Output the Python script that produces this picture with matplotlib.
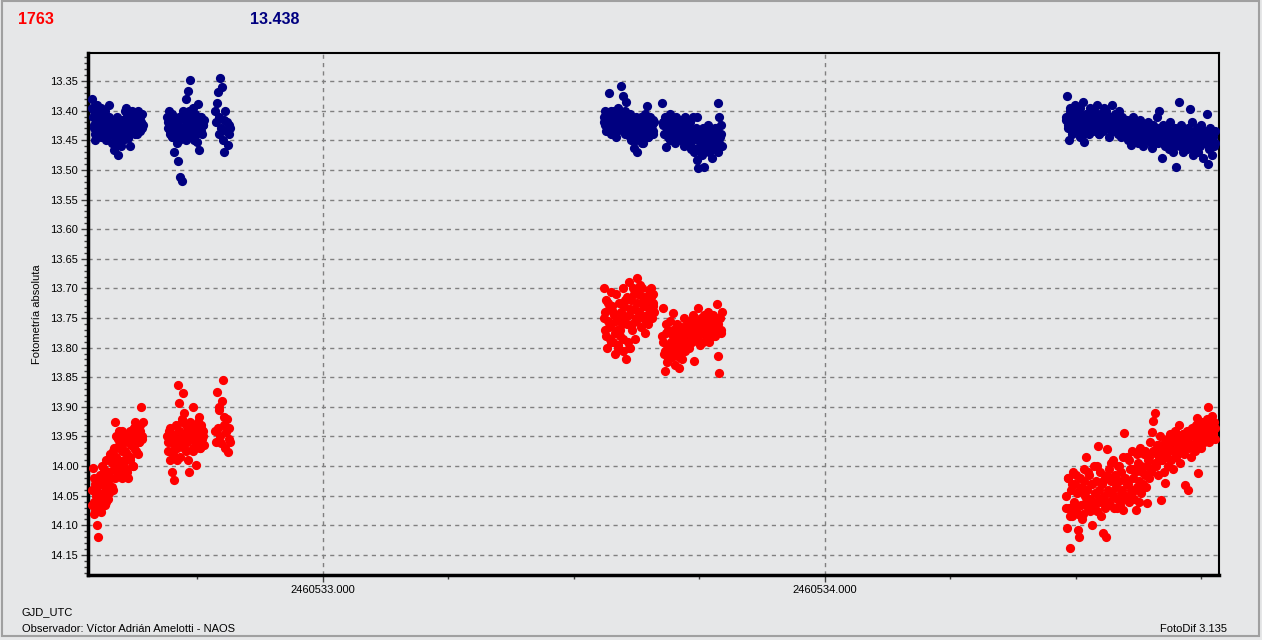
import matplotlib
matplotlib.use("Agg")
import matplotlib.pyplot as plt
from matplotlib.patches import Rectangle
from matplotlib.ticker import MultipleLocator, FormatStrFormatter

plt.rcParams['font.family'] = ['Liberation Sans', 'DejaVu Sans']

# days after JD 2460532
JD0 = 2460532.0

# night 1 (three short runs)
t_n1 = [0.540, 0.541, 0.543, 0.544, 0.546, 0.547, 0.549, 0.551, 0.552, 0.554,
        0.556, 0.557, 0.559, 0.560, 0.562, 0.564, 0.565, 0.567, 0.568, 0.570,
        0.572, 0.573, 0.575, 0.576, 0.578, 0.580, 0.581, 0.583, 0.584, 0.586,
        0.588, 0.589, 0.591, 0.592, 0.594, 0.596, 0.597, 0.599, 0.600, 0.602,
        0.604, 0.605, 0.607, 0.608, 0.610, 0.612, 0.613, 0.615, 0.616, 0.618,
        0.620, 0.621, 0.623, 0.624, 0.626, 0.628, 0.629, 0.631, 0.632, 0.634,
        0.636, 0.637, 0.639, 0.641,
        0.690, 0.692, 0.693, 0.695, 0.697, 0.699, 0.700, 0.702, 0.704, 0.706,
        0.707, 0.709, 0.711, 0.713, 0.714, 0.716, 0.718, 0.720, 0.721, 0.723,
        0.725, 0.727, 0.728, 0.730, 0.732, 0.734, 0.735, 0.737, 0.739, 0.741,
        0.742, 0.744, 0.746, 0.748, 0.749, 0.751, 0.753, 0.755, 0.756, 0.758,
        0.760, 0.762, 0.763,
        0.785, 0.787, 0.788, 0.790, 0.792, 0.793, 0.795, 0.797, 0.798, 0.800,
        0.802, 0.803, 0.805, 0.807, 0.808, 0.810, 0.812, 0.813, 0.815]
blue_n1 = [13.38, 13.41, 13.43, 13.40, 13.45, 13.42, 13.39, 13.44, 13.415, 13.40,
           13.43, 13.395, 13.42, 13.44, 13.41, 13.43, 13.40, 13.45, 13.425, 13.41,
           13.435, 13.39, 13.42, 13.43, 13.44, 13.415, 13.455, 13.42, 13.466, 13.43,
           13.445, 13.41, 13.45, 13.475, 13.425, 13.44, 13.46, 13.415, 13.435, 13.45,
           13.42, 13.40, 13.43, 13.395, 13.42, 13.447, 13.41, 13.435, 13.46, 13.415,
           13.40, 13.43, 13.42, 13.405, 13.44, 13.415, 13.425, 13.40, 13.43, 13.41,
           13.435, 13.42, 13.405, 13.425,
           13.41, 13.43, 13.40, 13.44, 13.42, 13.445, 13.405, 13.43, 13.47, 13.415,
           13.44, 13.425, 13.485, 13.41, 13.45, 13.512, 13.43, 13.519, 13.40, 13.435,
           13.415, 13.45, 13.38, 13.42, 13.367, 13.44, 13.348, 13.41, 13.43, 13.395,
           13.425, 13.45, 13.405, 13.44, 13.453, 13.388, 13.466, 13.42, 13.435, 13.41,
           13.44, 13.425, 13.415,
           13.40, 13.42, 13.387, 13.368, 13.44, 13.41, 13.345, 13.43, 13.36, 13.45,
           13.415, 13.47, 13.40, 13.435, 13.42, 13.458, 13.44, 13.425, 13.43]
red_n1 = [14.04, 14.003, 14.06, 14.08, 14.03, 14.05, 14.10, 14.12, 14.045, 14.07,
          14.02, 14.078, 14.03, 14.00, 14.05, 14.015, 14.066, 14.04, 13.99, 14.025,
          14.055, 14.01, 14.035, 13.98, 14.02, 13.995, 14.04, 13.97, 14.005, 13.925,
          13.985, 14.01, 13.955, 13.99, 13.94, 14.00, 13.965, 14.02, 13.975, 13.95,
          13.99, 13.96, 14.006, 13.945, 13.98, 14.02, 13.955, 13.94, 13.99, 13.965,
          13.95, 14.00, 13.935, 13.97, 13.925, 13.955, 13.94, 13.98, 13.93, 13.96,
          13.94, 13.90, 13.95, 13.925,
          13.95, 13.975, 13.94, 13.99, 13.96, 14.01, 13.945, 13.98, 14.023, 13.955,
          13.93, 13.97, 13.863, 13.94, 13.893, 13.985, 13.96, 13.92, 13.876, 13.91,
          13.95, 13.93, 13.975, 13.94, 13.99, 14.01, 13.925, 13.955, 13.94, 13.97,
          13.90, 13.935, 13.96, 13.998, 13.95, 13.925, 13.917, 13.944, 13.97, 13.93,
          13.955, 13.94, 13.965,
          13.94, 13.96, 13.875, 13.936, 13.90, 13.905, 13.95, 13.961, 13.89, 13.855,
          13.917, 13.93, 13.97, 13.942, 13.92, 13.976, 13.955, 13.935, 13.96]

# night 1, frames in between
t_n1b = [0.5405, 0.5435, 0.5465, 0.5495, 0.5525, 0.5555, 0.5585, 0.5615, 0.5645, 0.5675,
         0.5705, 0.5735, 0.5765, 0.5795, 0.5825, 0.5855, 0.5885, 0.5915, 0.5945, 0.5975,
         0.6005, 0.6035, 0.6065, 0.6095, 0.6125, 0.6155, 0.6185, 0.6215, 0.6245, 0.6275,
         0.6305, 0.6335, 0.6365, 0.6395,
         0.6915, 0.6950, 0.6985, 0.7020, 0.7055, 0.7090, 0.7125, 0.7160, 0.7195, 0.7230,
         0.7265, 0.7300, 0.7335, 0.7370, 0.7405, 0.7440, 0.7475, 0.7510, 0.7545, 0.7580,
         0.7615]
blue_n1b = [13.395, 13.425, 13.44, 13.405, 13.43, 13.415, 13.445, 13.40, 13.435, 13.42,
            13.445, 13.41, 13.43, 13.455, 13.44, 13.42, 13.46, 13.435, 13.45, 13.425,
            13.44, 13.415, 13.43, 13.405, 13.42, 13.435, 13.41, 13.425, 13.43, 13.415,
            13.44, 13.42, 13.41, 13.43,
            13.42, 13.435, 13.41, 13.445, 13.425, 13.455, 13.415, 13.44, 13.43, 13.41,
            13.445, 13.425, 13.40, 13.435, 13.415, 13.44, 13.42, 13.43, 13.41, 13.435,
            13.425]
red_n1b = [14.065, 14.02, 14.075, 14.035, 14.06, 14.015, 14.07, 14.045, 14.005, 14.06,
           14.02, 14.045, 13.985, 14.035, 13.975, 14.02, 13.95, 14.005, 13.965, 14.015,
           13.94, 14.00, 13.975, 14.01, 13.945, 13.985, 13.96, 14.00, 13.935, 13.975,
           13.945, 13.96, 13.93, 13.955,
           13.96, 13.935, 13.975, 13.95, 13.965, 13.99, 13.94, 13.955, 13.925, 13.97,
           13.945, 13.96, 13.935, 13.95, 13.975, 13.93, 13.96, 13.945, 13.97, 13.935,
           13.95]

# night 2
t_n2 = [1.559, 1.561, 1.562, 1.564, 1.566, 1.568, 1.569, 1.571, 1.573, 1.574,
        1.576, 1.578, 1.580, 1.581, 1.583, 1.585, 1.586, 1.588, 1.590, 1.592,
        1.593, 1.595, 1.597, 1.598, 1.600, 1.602, 1.604, 1.605, 1.607, 1.609,
        1.610, 1.612, 1.614, 1.616, 1.617, 1.619, 1.621, 1.622, 1.624, 1.626,
        1.628, 1.629, 1.631, 1.633, 1.634, 1.636, 1.638, 1.640, 1.641, 1.643,
        1.645, 1.646, 1.648, 1.650, 1.652, 1.653, 1.655, 1.657, 1.658, 1.660,
        1.676, 1.678, 1.679, 1.681, 1.683, 1.685, 1.686, 1.688, 1.690, 1.691,
        1.693, 1.695, 1.697, 1.698, 1.700, 1.702, 1.703, 1.705, 1.707, 1.709,
        1.710, 1.712, 1.714, 1.715, 1.717, 1.719, 1.721, 1.722, 1.724, 1.726,
        1.727, 1.729, 1.731, 1.733, 1.734, 1.736, 1.738, 1.739, 1.741, 1.743,
        1.745, 1.746, 1.748, 1.750, 1.751, 1.753, 1.755, 1.757, 1.758, 1.760,
        1.762, 1.763, 1.765, 1.767, 1.769, 1.770, 1.772, 1.774, 1.775, 1.777,
        1.779, 1.781, 1.782, 1.784, 1.786, 1.787, 1.789, 1.791, 1.793, 1.794]
blue_n2 = [13.41, 13.425, 13.40, 13.435, 13.415, 13.43, 13.37, 13.42, 13.405, 13.44,
           13.415, 13.43, 13.40, 13.42, 13.444, 13.41, 13.435, 13.395, 13.425, 13.43,
           13.358, 13.41, 13.42, 13.375, 13.435, 13.40, 13.385, 13.425, 13.415, 13.44,
           13.42, 13.405, 13.45, 13.43, 13.415, 13.463, 13.44, 13.425, 13.41, 13.47,
           13.435, 13.42, 13.445, 13.41, 13.43, 13.455, 13.425, 13.44, 13.405, 13.43,
           13.393, 13.42, 13.445, 13.43, 13.41, 13.44, 13.425, 13.415, 13.435, 13.42,
           13.387, 13.42, 13.44, 13.41, 13.461, 13.43, 13.415, 13.445, 13.425, 13.405,
           13.43, 13.45, 13.415, 13.44, 13.42, 13.455, 13.41, 13.435, 13.445, 13.425,
           13.43, 13.415, 13.45, 13.44, 13.42, 13.46, 13.435, 13.41, 13.445, 13.43,
           13.44, 13.455, 13.42, 13.465, 13.435, 13.45, 13.41, 13.47, 13.445, 13.43,
           13.483, 13.41, 13.497, 13.45, 13.46, 13.44, 13.475, 13.43, 13.455, 13.495,
           13.465, 13.44, 13.45, 13.425, 13.47, 13.445, 13.46, 13.435, 13.48, 13.45,
           13.44, 13.465, 13.43, 13.455, 13.387, 13.47, 13.41, 13.445, 13.425, 13.46]
red_n2 = [13.70, 13.74, 13.77, 13.72, 13.80, 13.755, 13.735, 13.785, 13.706, 13.76,
          13.73, 13.79, 13.745, 13.81, 13.71, 13.77, 13.75, 13.795, 13.725, 13.78,
          13.74, 13.76, 13.70, 13.805, 13.73, 13.75, 13.82, 13.715, 13.79, 13.745,
          13.69, 13.80, 13.72, 13.76, 13.70, 13.735, 13.785, 13.705, 13.75, 13.683,
          13.71, 13.74, 13.695, 13.765, 13.725, 13.70, 13.75, 13.73, 13.775, 13.715,
          13.745, 13.72, 13.76, 13.703, 13.735, 13.70, 13.75, 13.725, 13.71, 13.74,
          13.78, 13.733, 13.81, 13.84, 13.76, 13.795, 13.825, 13.77, 13.80, 13.755,
          13.79, 13.815, 13.77, 13.742, 13.80, 13.83, 13.785, 13.76, 13.81, 13.775,
          13.835, 13.79, 13.765, 13.82, 13.78, 13.75, 13.805, 13.77, 13.79, 13.76,
          13.775, 13.80, 13.755, 13.785, 13.765, 13.79, 13.745, 13.823, 13.77, 13.78,
          13.76, 13.785, 13.733, 13.77, 13.795, 13.75, 13.775, 13.76, 13.79, 13.745,
          13.77, 13.755, 13.78, 13.74, 13.765, 13.79, 13.75, 13.775, 13.76, 13.745,
          13.77, 13.755, 13.78, 13.726, 13.814, 13.76, 13.843, 13.75, 13.775, 13.74]

# night 2, frames in between
t_n2b = [1.5600, 1.5635, 1.5670, 1.5705, 1.5740, 1.5775, 1.5810, 1.5845, 1.5880, 1.5915,
         1.5950, 1.5985, 1.6020, 1.6055, 1.6090, 1.6125, 1.6160, 1.6195, 1.6230, 1.6265,
         1.6300, 1.6335, 1.6370, 1.6405, 1.6440, 1.6475, 1.6510, 1.6545, 1.6580,
         1.6770, 1.6805, 1.6840, 1.6875, 1.6910, 1.6945, 1.6980, 1.7015, 1.7050, 1.7085,
         1.7120, 1.7155, 1.7190, 1.7225, 1.7260, 1.7295, 1.7330, 1.7365, 1.7400, 1.7435,
         1.7470, 1.7505, 1.7540, 1.7575, 1.7610, 1.7645, 1.7680, 1.7715, 1.7750, 1.7785,
         1.7820, 1.7855, 1.7890, 1.7925]
blue_n2b = [13.42, 13.405, 13.43, 13.415, 13.40, 13.425, 13.41, 13.435, 13.42, 13.405,
            13.43, 13.415, 13.44, 13.425, 13.43, 13.445, 13.42, 13.435, 13.45, 13.43,
            13.44, 13.425, 13.455, 13.435, 13.42, 13.445, 13.43, 13.415, 13.44,
            13.425, 13.44, 13.415, 13.435, 13.45, 13.42, 13.44, 13.43, 13.445, 13.415,
            13.435, 13.45, 13.425, 13.44, 13.455, 13.43, 13.46, 13.445, 13.435, 13.465,
            13.45, 13.44, 13.47, 13.455, 13.445, 13.46, 13.435, 13.455, 13.465, 13.44,
            13.45, 13.43, 13.455, 13.44]
red_n2b = [13.75, 13.78, 13.725, 13.765, 13.79, 13.74, 13.775, 13.755, 13.80, 13.77,
           13.745, 13.785, 13.72, 13.76, 13.80, 13.735, 13.77, 13.71, 13.755, 13.725,
           13.70, 13.745, 13.715, 13.73, 13.755, 13.72, 13.74, 13.715, 13.73,
           13.79, 13.805, 13.775, 13.82, 13.795, 13.81, 13.78, 13.80, 13.765, 13.815,
           13.785, 13.80, 13.775, 13.79, 13.77, 13.76, 13.785, 13.755, 13.775, 13.765,
           13.78, 13.755, 13.77, 13.76, 13.75, 13.775, 13.765, 13.745, 13.76, 13.78,
           13.755, 13.765, 13.75, 13.77]

# night 3
t_n3 = [2.480, 2.482, 2.484, 2.486, 2.488, 2.490, 2.492, 2.494, 2.496, 2.498,
        2.500, 2.502, 2.504, 2.506, 2.508, 2.510, 2.512, 2.514, 2.516, 2.518,
        2.520, 2.522, 2.524, 2.526, 2.528, 2.530, 2.532, 2.534, 2.536, 2.538,
        2.540, 2.542, 2.544, 2.546, 2.548, 2.550, 2.552, 2.554, 2.556, 2.558,
        2.560, 2.562, 2.564, 2.566, 2.568, 2.570, 2.572, 2.574, 2.576, 2.578,
        2.580, 2.582, 2.584, 2.586, 2.588, 2.590, 2.592, 2.594, 2.596, 2.598,
        2.600, 2.602, 2.604, 2.606, 2.608, 2.610, 2.612, 2.614, 2.616, 2.618,
        2.620, 2.622, 2.624, 2.626, 2.628, 2.630, 2.632, 2.634, 2.636, 2.638,
        2.640, 2.642, 2.644, 2.646, 2.648, 2.650, 2.652, 2.654, 2.656, 2.658,
        2.660, 2.662, 2.664, 2.666, 2.668, 2.670, 2.672, 2.674, 2.676, 2.678,
        2.680, 2.682, 2.684, 2.686, 2.688, 2.690, 2.692, 2.694, 2.696, 2.698,
        2.700, 2.702, 2.704, 2.706, 2.708, 2.710, 2.712, 2.714, 2.716, 2.718,
        2.720, 2.722, 2.724, 2.726, 2.728, 2.730, 2.732, 2.734, 2.736, 2.738,
        2.740, 2.742, 2.744, 2.746, 2.748, 2.750, 2.752, 2.754, 2.756, 2.758,
        2.760, 2.762, 2.764, 2.766, 2.768, 2.770, 2.772, 2.774, 2.776, 2.778]
blue_n3 = [13.41, 13.375, 13.43, 13.45, 13.395, 13.42, 13.44, 13.405, 13.425, 13.39,
           13.415, 13.435, 13.40, 13.42, 13.445, 13.41, 13.43, 13.385, 13.453, 13.42,
           13.405, 13.43, 13.415, 13.44, 13.395, 13.425, 13.41, 13.435, 13.40, 13.42,
           13.43, 13.39, 13.415, 13.44, 13.405, 13.425, 13.41, 13.435, 13.395, 13.42,
           13.40, 13.43, 13.415, 13.445, 13.41, 13.425, 13.39, 13.435, 13.42, 13.405,
           13.43, 13.415, 13.44, 13.40, 13.425, 13.445, 13.41, 13.43, 13.42, 13.435,
           13.44, 13.415, 13.45, 13.43, 13.42, 13.458, 13.435, 13.41, 13.445, 13.43,
           13.42, 13.44, 13.455, 13.43, 13.415, 13.445, 13.435, 13.46, 13.425, 13.44,
           13.43, 13.45, 13.42, 13.44, 13.435, 13.455, 13.463, 13.425, 13.445, 13.43,
           13.44, 13.41, 13.455, 13.40, 13.435, 13.45, 13.48, 13.425, 13.445, 13.46,
           13.43, 13.45, 13.44, 13.465, 13.42, 13.455, 13.435, 13.47, 13.445, 13.43,
           13.495, 13.45, 13.44, 13.385, 13.46, 13.425, 13.445, 13.47, 13.435, 13.455,
           13.44, 13.465, 13.43, 13.45, 13.397, 13.46, 13.42, 13.475, 13.445, 13.435,
           13.455, 13.43, 13.47, 13.44, 13.46, 13.425, 13.45, 13.48, 13.435, 13.455,
           13.44, 13.405, 13.49, 13.465, 13.43, 13.455, 13.475, 13.445, 13.46, 13.435]
red_n3 = [14.05, 14.105, 14.02, 14.07, 14.138, 14.04, 14.085, 14.01, 14.06, 14.03,
          14.075, 14.045, 14.108, 14.12, 14.02, 14.065, 14.035, 14.08, 14.005, 14.05,
          13.985, 14.04, 14.07, 14.015, 14.055, 14.03, 14.10, 14.06, 14.00, 14.045,
          14.025, 14.075, 13.966, 14.04, 14.01, 14.06, 14.03, 14.113, 14.05, 14.02,
          14.12, 13.971, 14.04, 14.005, 14.065, 14.025, 14.045, 13.99, 14.07, 14.015,
          14.035, 14.055, 14.00, 14.025, 14.065, 14.01, 14.04, 14.074, 13.944, 14.02,
          14.05, 13.985, 14.03, 14.06, 14.005, 14.04, 13.975, 14.02, 14.055, 14.01,
          14.074, 14.035, 13.995, 14.025, 13.97, 14.045, 14.01, 14.03, 13.98, 14.015,
          14.035, 14.062, 13.99, 14.02, 13.96, 14.005, 13.942, 13.924, 13.975, 13.91,
          14.00, 13.965, 14.015, 13.985, 13.95, 14.057, 13.99, 13.97, 14.01, 14.029,
          13.98, 13.955, 14.00, 13.97, 13.945, 13.99, 13.96, 14.005, 13.975, 13.94,
          13.985, 13.955, 13.97, 13.93, 13.995, 13.96, 13.975, 13.945, 13.98, 14.032,
          13.96, 13.94, 14.04, 13.97, 13.95, 13.985, 13.935, 13.965, 13.945, 13.975,
          13.93, 13.918, 14.012, 13.955, 13.94, 13.97, 13.925, 13.95, 13.96, 13.935,
          13.945, 13.92, 13.90, 13.96, 13.93, 13.95, 13.915, 13.94, 13.925, 13.955]

# night 3, frames in between
t_n3b = [2.481, 2.485, 2.489, 2.493, 2.497, 2.501, 2.505, 2.509, 2.513, 2.517,
         2.521, 2.525, 2.529, 2.533, 2.537, 2.541, 2.545, 2.549, 2.553, 2.557,
         2.561, 2.565, 2.569, 2.573, 2.577, 2.581, 2.585, 2.589, 2.593, 2.597,
         2.601, 2.605, 2.609, 2.613, 2.617, 2.621, 2.625, 2.629, 2.633, 2.637,
         2.641, 2.645, 2.649, 2.653, 2.657, 2.661, 2.665, 2.669, 2.673, 2.677,
         2.681, 2.685, 2.689, 2.693, 2.697, 2.701, 2.705, 2.709, 2.713, 2.717,
         2.721, 2.725, 2.729, 2.733, 2.737, 2.741, 2.745, 2.749, 2.753, 2.757,
         2.761, 2.765, 2.769, 2.773, 2.777]
blue_n3b = [13.415, 13.425, 13.40, 13.435, 13.42, 13.41, 13.43, 13.395, 13.425, 13.44,
            13.41, 13.42, 13.43, 13.405, 13.425, 13.415, 13.44, 13.42, 13.41, 13.43,
            13.425, 13.41, 13.435, 13.42, 13.43, 13.415, 13.44, 13.425, 13.43, 13.44,
            13.43, 13.445, 13.425, 13.44, 13.45, 13.435, 13.42, 13.445, 13.43, 13.45,
            13.44, 13.43, 13.445, 13.435, 13.45, 13.44, 13.43, 13.445, 13.455, 13.44,
            13.445, 13.435, 13.455, 13.44, 13.46, 13.45, 13.435, 13.455, 13.445, 13.46,
            13.45, 13.44, 13.455, 13.465, 13.445, 13.435, 13.46, 13.45, 13.44, 13.455,
            13.445, 13.46, 13.45, 13.44, 13.455]
red_n3b = [14.07, 14.02, 14.085, 14.03, 14.065, 14.015, 14.08, 14.04, 14.09, 14.025,
           14.06, 14.01, 14.075, 14.03, 14.065, 14.00, 14.055, 14.085, 14.025, 14.07,
           14.015, 14.06, 13.995, 14.05, 14.02, 14.07, 14.00, 14.045, 13.985, 14.055,
           14.03, 13.99, 14.05, 14.005, 14.04, 13.98, 14.06, 14.00, 14.035, 13.975,
           14.00, 13.985, 14.01, 13.975, 13.995, 13.98, 13.965, 13.99, 13.975, 13.96,
           13.985, 13.97, 13.955, 13.975, 13.96, 13.98, 13.95, 13.965, 13.945, 13.97,
           13.955, 13.94, 13.965, 13.95, 13.935, 13.96, 13.945, 13.955, 13.93, 13.95,
           13.94, 13.955, 13.93, 13.945, 13.935]

n_points = "1763"
mean_check = "13.438"

t_all = t_n1 + t_n1b + t_n2 + t_n2b + t_n3 + t_n3b
times = [JD0 + t for t in t_all]
blue = blue_n1 + blue_n1b + blue_n2 + blue_n2b + blue_n3 + blue_n3b
red = red_n1 + red_n1b + red_n2 + red_n2b + red_n3 + red_n3b

bg = '#e6e7e8'
fig = plt.figure(figsize=(12.62, 6.40), dpi=100, facecolor=bg)
ax = fig.add_axes([88 / 1262, 65 / 640, 1131 / 1262, 522 / 640])
ax.set_facecolor(bg)

ax.scatter(times, blue, s=44, color='#000080', linewidths=0, zorder=3)
ax.scatter(times, red, s=44, color='#ff0000', linewidths=0, zorder=3)

ax.set_xlim(2460532.532, 2460534.785)
ax.set_ylim(14.1838, 13.3027)

ax.yaxis.set_major_locator(MultipleLocator(0.05))
ax.yaxis.set_minor_locator(MultipleLocator(0.01))
ax.yaxis.set_major_formatter(FormatStrFormatter('%.2f'))
ax.xaxis.set_major_locator(MultipleLocator(1.0))
ax.xaxis.set_minor_locator(MultipleLocator(0.25))
ax.xaxis.set_major_formatter(FormatStrFormatter('%.3f'))

ax.tick_params(axis='both', which='major', labelsize=8, length=5, width=1,
               color='#404040', pad=2)
ax.tick_params(axis='both', which='minor', length=3, width=1, color='#404040')

ax.grid(True, which='major', linestyle=(0, (3, 3)), color='#808080', linewidth=1)
ax.set_axisbelow(True)

for side in ['left', 'bottom']:
    ax.spines[side].set_linewidth(2.5)
for side in ['top', 'right']:
    ax.spines[side].set_linewidth(1.5)

ax.set_ylabel('Fotometría absoluta', fontsize=8, labelpad=6)

fig.text(18 / 1262, 1 - 24 / 640, n_points, color='#ff0000', fontsize=11.5,
         fontweight='bold', va='baseline')
fig.text(250 / 1262, 1 - 24 / 640, mean_check, color='#000080', fontsize=11.5,
         fontweight='bold', va='baseline')
fig.text(22 / 1262, 1 - 615 / 640, 'GJD_UTC', fontsize=8, va='baseline')
fig.text(22 / 1262, 1 - 632 / 640, 'Observador: Víctor Adrián Amelotti - NAOS',
         fontsize=8, va='baseline')
fig.text(1227 / 1262, 1 - 632 / 640, 'FotoDif 3.135', fontsize=8,
         va='baseline', ha='right')

fig.patches.append(Rectangle((2 / 1262, 4 / 640), 1257 / 1262, 635 / 640,
                             transform=fig.transFigure, fill=False,
                             edgecolor='#a0a0a0', linewidth=1.5))

fig.savefig('out.png', dpi=100, facecolor=bg)
